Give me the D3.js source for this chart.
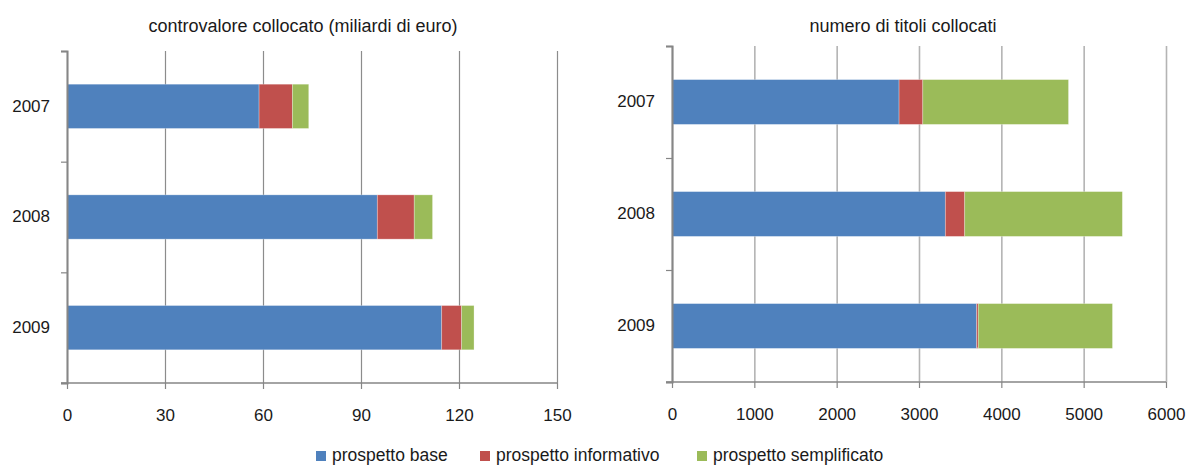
<!DOCTYPE html>
<html>
<head>
<meta charset="utf-8">
<script src="https://cdn.jsdelivr.net/npm/d3@7"></script>
<style>
  html, body { margin: 0; padding: 0; background: #fff; }
  svg { display: block; font-family: "Liberation Sans", Arial, sans-serif; }
</style>
</head>
<body>
<svg width="1192" height="466"></svg>
<script>
// categories and series
const years = ["2007", "2008", "2009"];
const seriesNames = ["prospetto base", "prospetto informativo", "prospetto semplificato"];
const seriesKeys = ["base", "informativo", "semplificato"];

// left panel: controvalore (miliardi di euro)
const valoreBase = [58.8, 95.0, 114.7];
const valoreInformativo = [10.2, 11.3, 6.1];
const valoreSemplificato = [5.0, 5.6, 3.8];
const valoreTicks = [0, 30, 60, 90, 120, 150];

// right panel: numero di titoli
const titoliBase = [2758, 3320, 3700];
const titoliInformativo = [288, 235, 20];
const titoliSemplificato = [1770, 1915, 1630];
const titoliTicks = [0, 1000, 2000, 3000, 4000, 5000, 6000];

const colors = ["#4f81bd", "#c0504d", "#9bbb59"];   // Excel 2007 palette

const svg = d3.select("svg");

function rows(a, b, c) {
  return years.map((y, i) => ({ year: y, base: a[i], informativo: b[i], semplificato: c[i] }));
}

function panel(opt) {
  const x = d3.scaleLinear()
    .domain([0, d3.max(opt.ticks)])
    .range([opt.x0, opt.x1]);
  const y = d3.scaleBand()
    .domain(years)
    .range([opt.y0, opt.y1])
    .paddingInner(0.6)
    .paddingOuter(0.3);
  const h = opt.y1 - opt.y0;

  const g = svg.append("g");

  // title
  g.append("text")
    .attr("x", opt.titleX)
    .attr("y", 32)
    .attr("text-anchor", "middle")
    .attr("font-size", 18)
    .attr("fill", "#1a1a1a")
    .text(opt.title);

  // vertical gridlines
  g.append("g")
    .attr("transform", "translate(0," + opt.y1 + ")")
    .call(d3.axisBottom(x).tickValues(opt.ticks).tickSize(-h).tickFormat(""))
    .call(a => a.select(".domain").remove())
    .call(a => a.selectAll("line").attr("stroke", opt.grid).attr("stroke-width", opt.gridW));

  // stacked bars
  const stacked = d3.stack().keys(seriesKeys)(opt.data);
  g.selectAll("g.layer")
    .data(stacked)
    .enter().append("g")
    .attr("class", "layer")
    .attr("fill", (d, i) => colors[i])
    .selectAll("rect")
    .data(d => d)
    .enter().append("rect")
    .attr("x", d => x(d[0]))
    .attr("y", d => y(d.data.year))
    .attr("width", d => Math.max(0, x(d[1]) - x(d[0])))
    .attr("height", y.bandwidth())
    .attr("stroke", "rgba(255,255,255,0.35)")
    .attr("stroke-width", 0.8);

  // x axis
  g.append("g")
    .attr("transform", "translate(0," + opt.y1 + ")")
    .call(d3.axisBottom(x).tickValues(opt.ticks).tickFormat(d3.format("d"))
      .tickSize(6).tickPadding(20).tickSizeOuter(0))
    .call(a => a.select(".domain").attr("stroke", "#868686").attr("stroke-width", 1.6)
      .attr("d", "M" + (opt.x0 - 6) + ",0H" + opt.x1))
    .call(a => a.selectAll("line").attr("stroke", "#868686").attr("stroke-width", 1.2))
    .call(a => a.selectAll("text").attr("font-size", 17).attr("fill", "#1a1a1a")
      .attr("font-family", "Liberation Sans, Arial, sans-serif"));

  // y axis: labels centred on bands, ticks on the band boundaries
  g.append("g")
    .attr("transform", "translate(" + opt.x0 + ",0)")
    .call(d3.axisLeft(y).tickSize(0).tickPadding(17))
    .call(a => a.select(".domain").remove())
    .call(a => a.selectAll("text").attr("font-size", 17).attr("fill", "#1a1a1a")
      .attr("font-family", "Liberation Sans, Arial, sans-serif"));

  const edges = d3.scaleLinear().domain([0, years.length]).range([opt.y0, opt.y1]);
  g.append("g")
    .attr("transform", "translate(" + opt.x0 + ",0)")
    .call(d3.axisLeft(edges).ticks(years.length).tickSize(6).tickFormat("").tickSizeOuter(6))
    .call(a => a.select(".domain").attr("stroke", "#868686").attr("stroke-width", 2))
    .call(a => a.selectAll("line").attr("stroke", "#868686").attr("stroke-width", 1.2));
}

panel({
  title: "controvalore collocato (miliardi di euro)",
  titleX: 303,
  data: rows(valoreBase, valoreInformativo, valoreSemplificato),
  ticks: valoreTicks,
  x0: 67, x1: 557, y0: 51, y1: 383,
  grid: "#8c8c8c", gridW: 1.2
});

panel({
  title: "numero di titoli collocati",
  titleX: 903,
  data: rows(titoliBase, titoliInformativo, titoliSemplificato),
  ticks: titoliTicks,
  x0: 672, x1: 1166, y0: 46, y1: 382,
  grid: "#b4b4b4", gridW: 1.6
});

// legend
const legendX = [316, 480, 697];
const legend = svg.append("g").selectAll("g")
  .data(seriesNames)
  .enter().append("g")
  .attr("transform", (d, i) => "translate(" + legendX[i] + ",451)");
legend.append("rect")
  .attr("width", 10).attr("height", 10)
  .attr("fill", (d, i) => colors[i]);
legend.append("text")
  .attr("x", 16).attr("y", 10)
  .attr("font-size", 17.5)
  .attr("fill", "#1a1a1a")
  .text(d => d);
</script>
</body>
</html>
